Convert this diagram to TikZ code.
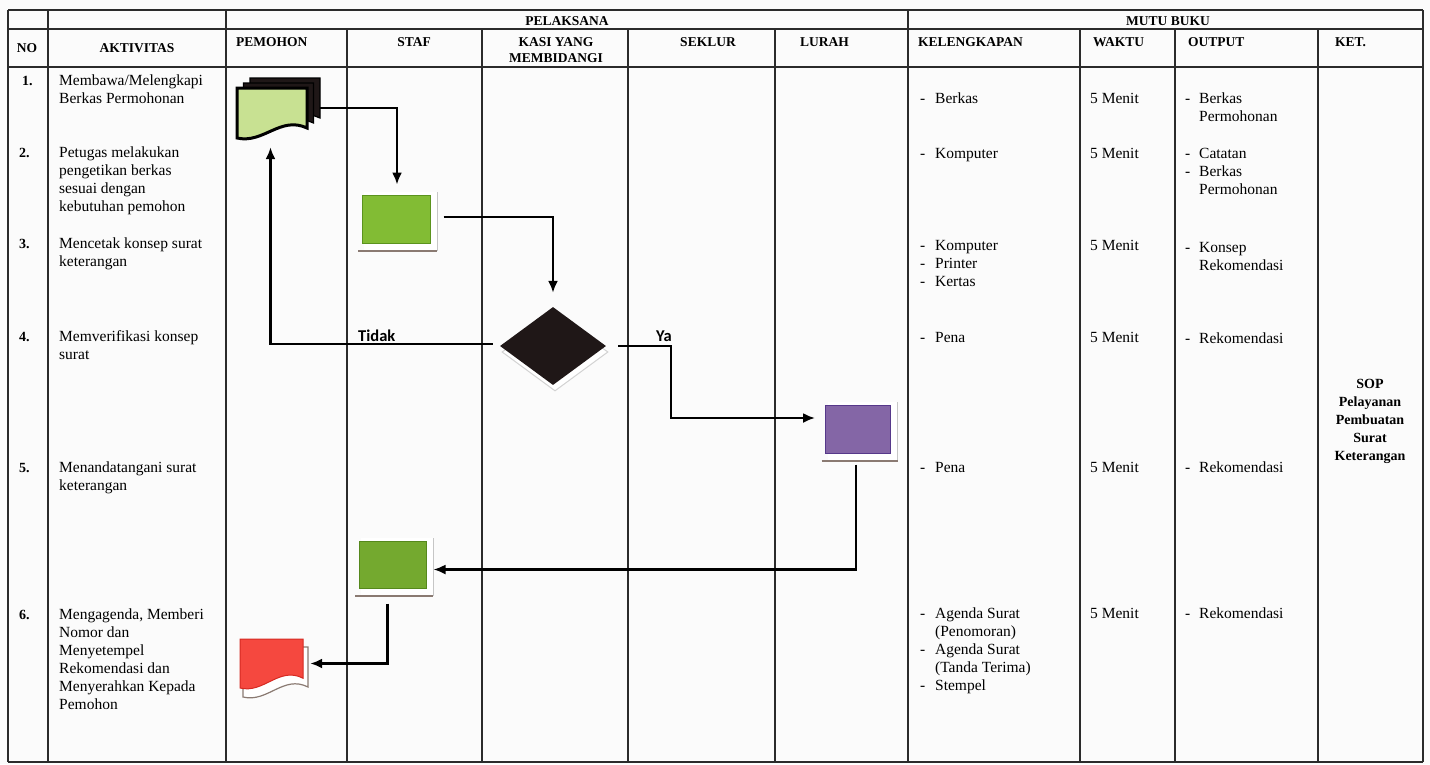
\documentclass[tikz,border=0pt]{standalone}
\usepackage{fontspec}
\setmainfont{Liberation Serif}
\newfontfamily\labfont{Carlito}
\usetikzlibrary{arrows.meta,shapes.geometric}
\definecolor{linegray}{HTML}{2B2B2B}
\definecolor{paper}{HTML}{FBFBFB}
\definecolor{docfill}{HTML}{C8E192}
\definecolor{gAfill}{HTML}{82BC34}
\definecolor{gAdraw}{HTML}{5B931E}
\definecolor{gBfill}{HTML}{74A92F}
\definecolor{gBdraw}{HTML}{55881C}
\definecolor{pfill}{HTML}{8466A6}
\definecolor{pdraw}{HTML}{56388A}
\definecolor{rfill}{HTML}{F5483F}
\definecolor{rdraw}{HTML}{D62A22}
\definecolor{dfill}{HTML}{1F1717}
\definecolor{shline}{HTML}{8A7A72}

\newcommand{\rowsL}[1]{\begin{tabular}[t]{@{}l@{}}#1\end{tabular}}
\newcommand{\rowsC}[1]{\begin{tabular}[t]{@{}c@{}}#1\end{tabular}}
\newcommand{\dashlist}[2]{\begin{tabular}[t]{@{}l@{\hspace{#1}}l@{}}#2\end{tabular}}
\newcommand{\docdraw}[5]{\filldraw[#5] (#1,#2) -- (#1+#3,#2) -- (#1+#3,#2+0.8*#4) .. controls (#1+0.62*#3,#2+0.55*#4) and (#1+0.38*#3,#2+1.12*#4) .. (#1,#2+#4) -- cycle;}
\newcommand{\boxshadow}[4]{%
  \fill[white] (#1-#3/2+2,#2-#4/2-3) rectangle (#1+#3/2+7,#2+#4/2+8);
  \draw[gray!45, line width=0.8pt] (#1+#3/2+7,#2-#4/2-3) -- (#1+#3/2+7,#2+#4/2+8);
  \draw[shline, line width=1.6pt] (#1-#3/2-4,#2+#4/2+8) -- (#1+#3/2+7,#2+#4/2+8);}

\begin{document}
\begin{tikzpicture}[x=1pt,y=-1pt,
  tline/.style={draw=linegray, line width=1.1pt},
  hdr/.style={font=\bfseries\fontsize{13.5}{16}\selectfont, inner sep=0pt},
  txt/.style={font=\fontsize{15.5}{18}\selectfont, inner sep=0pt, anchor=base west},
  num/.style={font=\bfseries\fontsize{14}{18}\selectfont, inner sep=0pt, anchor=base west},
  sop/.style={font=\bfseries\fontsize{14}{18}\selectfont, inner sep=0pt, anchor=base},
  lbl/.style={font=\labfont\bfseries\fontsize{16.5}{18}\selectfont, inner sep=0pt, anchor=base west},
  conn/.style={draw=black, line width=2.2pt, -{Latex[length=12pt,width=10pt]}},
  gbox/.style={rectangle, inner sep=0pt, minimum width=68pt, minimum height=48pt, line width=1pt}]

\fill[paper] (0,0) rectangle (1430,764);
\useasboundingbox (0,0) rectangle (1430,764);

% ---- table grid ----
\draw[tline] (8,10) -- (1423,10);
\draw[tline] (8,29) -- (1423,29);
\draw[tline, line width=1.6pt] (8,67) -- (1423,67);
\draw[tline] (8,762) -- (1423,762);
\foreach \x in {8,48,226,908,1423} \draw[tline] (\x,10) -- (\x,762);
\foreach \x in {347,482,628,775,1080,1175,1318} \draw[tline] (\x,29) -- (\x,762);

% ---- headers ----
\node[hdr, anchor=base] (hpel) at (567,25) {PELAKSANA};
\node[hdr, anchor=base] (hmutu) at (1168,25) {MUTU BUKU};
\node[hdr, anchor=base] (hno) at (27,52) {NO};
\node[hdr, anchor=base] (hakt) at (137,52) {AKTIVITAS};
\node[hdr, anchor=base west] (hpem) at (236,46) {PEMOHON};
\node[hdr, anchor=base] (hstaf) at (414,46) {STAF};
\node[hdr, anchor=base] (hkasi) at (556,46) {\rowsC{KASI YANG\\MEMBIDANGI}};
\node[hdr, anchor=base] (hsek) at (708,46) {SEKLUR};
\node[hdr, anchor=base west] (hlur) at (800,46) {LURAH};
\node[hdr, anchor=base west] (hkel) at (918,46) {KELENGKAPAN};
\node[hdr, anchor=base west] (hwak) at (1093,46) {WAKTU};
\node[hdr, anchor=base west] (hout) at (1188,46) {OUTPUT};
\node[hdr, anchor=base west] (hket) at (1335,46) {KET.};

% ---- numbers ----
\node[num] (n1) at (22,85) {1.};
\node[num] (n2) at (19,157) {2.};
\node[num] (n3) at (19,248) {3.};
\node[num] (n4) at (19,341) {4.};
\node[num] (n5) at (19,472) {5.};
\node[num] (n6) at (19,619) {6.};

% ---- aktivitas ----
\node[txt] (a1) at (59,85) {\rowsL{Membawa/Melengkapi\\Berkas Permohonan}};
\node[txt] (a2) at (59,157) {\rowsL{Petugas melakukan\\pengetikan berkas\\sesuai dengan\\kebutuhan pemohon}};
\node[txt] (a3) at (59,248) {\rowsL{Mencetak konsep surat\\keterangan}};
\node[txt] (a4) at (59,341) {\rowsL{Memverifikasi konsep\\surat}};
\node[txt] (a5) at (59,472) {\rowsL{Menandatangani surat\\keterangan}};
\node[txt] (a6) at (59,619) {\rowsL{Mengagenda, Memberi\\Nomor dan\\Menyetempel\\Rekomendasi dan\\Menyerahkan Kepada\\Pemohon}};

% ---- kelengkapan ----
\node[txt] (k1) at (920,103) {\dashlist{9.8pt}{- & Berkas}};
\node[txt] (k2) at (920,158) {\dashlist{9.8pt}{- & Komputer}};
\node[txt] (k3) at (920,250) {\dashlist{9.8pt}{- & Komputer\\- & Printer\\- & Kertas}};
\node[txt] (k4) at (920,342) {\dashlist{9.8pt}{- & Pena}};
\node[txt] (k5) at (920,472) {\dashlist{9.8pt}{- & Pena}};
\node[txt] (k6) at (920,618) {\dashlist{9.8pt}{- & Agenda Surat\\ & (Penomoran)\\- & Agenda Surat\\ & (Tanda Terima)\\- & Stempel}};

% ---- waktu ----
\node[txt] (w1) at (1090,103) {5 Menit};
\node[txt] (w2) at (1090,158) {5 Menit};
\node[txt] (w3) at (1090,250) {5 Menit};
\node[txt] (w4) at (1090,342) {5 Menit};
\node[txt] (w5) at (1090,472) {5 Menit};
\node[txt] (w6) at (1090,618) {5 Menit};

% ---- output ----
\node[txt] (o1) at (1185,103) {\dashlist{8.8pt}{- & Berkas\\ & Permohonan}};
\node[txt] (o2) at (1185,158) {\dashlist{8.8pt}{- & Catatan\\- & Berkas\\ & Permohonan}};
\node[txt] (o3) at (1185,252) {\dashlist{8.8pt}{- & Konsep\\ & Rekomendasi}};
\node[txt] (o4) at (1185,343) {\dashlist{8.8pt}{- & Rekomendasi}};
\node[txt] (o5) at (1185,472) {\dashlist{8.8pt}{- & Rekomendasi}};
\node[txt] (o6) at (1185,618) {\dashlist{8.8pt}{- & Rekomendasi}};

% ---- ket ----
\node[sop] (ket) at (1370,388) {\rowsC{SOP\\Pelayanan\\Pembuatan\\Surat\\Keterangan}};

% ---- multidocument (pemohon) ----
\docdraw{250}{78}{70}{50}{fill=dfill, draw=black, line width=1.2pt}
\docdraw{243.5}{83}{70}{50}{fill=dfill, draw=black, line width=1.2pt}
\docdraw{237}{88}{70}{50}{fill=docfill, draw=black, line width=3pt}
\node[inner sep=0pt, minimum width=83pt, minimum height=60pt] (doc) at (278.5,108) {};

% ---- red document ----
\docdraw{243}{647}{65}{50}{fill=white, draw=shline, line width=1.2pt}
\docdraw{240}{639}{63}{49}{fill=rfill, draw=rdraw, line width=1pt}
\node[inner sep=0pt, minimum width=63pt, minimum height=49pt] (red) at (271.5,663.5) {};

% ---- process boxes ----
\boxshadow{396}{219}{68}{48}
\node[gbox, fill=gAfill, draw=gAdraw] (g1) at (396,219) {};
\boxshadow{858}{429}{65}{48}
\node[gbox, minimum width=65pt, fill=pfill, draw=pdraw] (pur) at (858,429) {};
\boxshadow{392.5}{564.5}{67}{47}
\node[gbox, minimum width=67pt, minimum height=47pt, fill=gBfill, draw=gBdraw] (g2) at (392.5,564.5) {};

% ---- decision ----
\node[diamond, inner sep=0pt, minimum width=106pt, minimum height=78pt, fill=white, draw=gray!35, line width=1pt] (diash) at (555,352) {};
\node[diamond, inner sep=0pt, minimum width=106pt, minimum height=78pt, fill=dfill] (dia) at (553,346) {};

% ---- connectors ----
\draw[conn, shorten >=10pt] (doc.east) -| ([xshift=1pt]g1.north);
\draw[conn, shorten <=13pt, shorten >=14pt] ([yshift=2pt]g1.east) -| (dia.north);
\draw[conn, shorten <=7pt, shorten >=9pt] ([yshift=2pt]dia.west) -| ([xshift=-8pt]doc.south);
\draw[conn, shorten <=12pt, shorten >=10pt] (dia.east) -- ++(65,0) |- ([yshift=11pt]pur.west);
\draw[conn, shorten <=11pt, shorten >=7pt] ([xshift=-2pt]pur.south) |- ([yshift=-5pt]g2.east);
\draw[conn, shorten <=15pt, shorten >=7pt] ([xshift=-5pt]g2.south) |- (red.east);

\node[lbl] (ltidak) at (358,341) {Tidak};
\node[lbl] (lya) at (656,341) {Ya};
\end{tikzpicture}
\end{document}
